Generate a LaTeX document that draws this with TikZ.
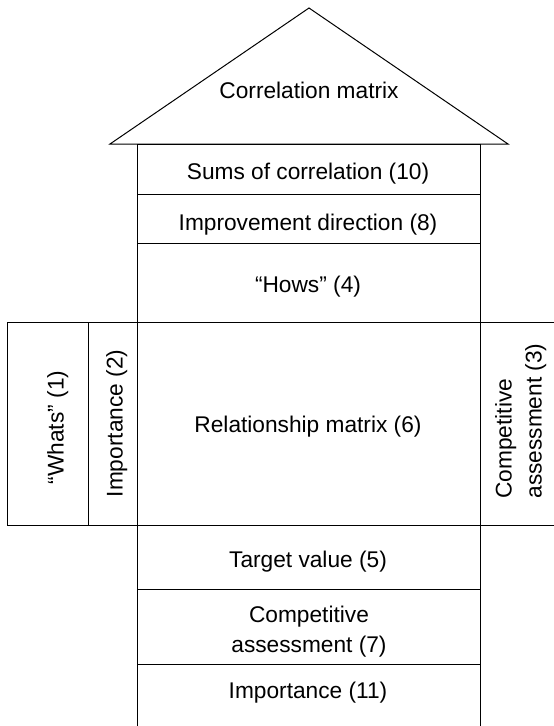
\documentclass[tikz,border=0pt]{standalone}
\usepackage{fontspec}
\setmainfont{Liberation Sans}
\begin{document}
\begin{tikzpicture}[x=1pt,y=1pt,line width=1pt,
  cell/.style={draw=black,rectangle,inner sep=0pt,outer sep=0pt},
  lbl/.style={inner sep=0pt,anchor=base,align=center,
    font=\fontsize{22.7}{29.5}\selectfont}]
\clip (0,0) rectangle (554,-726);
\useasboundingbox (0,0) rectangle (554,-726);
% roof
\coordinate (rl) at (110,-144);
\coordinate (ra) at (309,-8);
\coordinate (rr) at (508,-144);
\draw[line join=miter] (rl) -- (ra) -- (rr) -- cycle;
\node[lbl] (corr) at (309,-98) {Correlation matrix};
% central column cells
\node[cell,minimum width=343pt,minimum height=50pt] (sums) at (308.5,-169) {};
\node[cell,minimum width=343pt,minimum height=49pt] (impr) at (308.5,-218.5) {};
\node[cell,minimum width=343pt,minimum height=79pt] (hows) at (308.5,-282.5) {};
\node[cell,minimum width=343pt,minimum height=203pt] (rel) at (308.5,-423.5) {};
\node[cell,minimum width=343pt,minimum height=64pt] (target) at (308.5,-557) {};
\node[cell,minimum width=343pt,minimum height=75pt] (comp) at (308.5,-626.5) {};
\node[cell,minimum width=343pt,minimum height=72pt] (imp11) at (308.5,-700) {};
% central labels
\node[lbl] (sumst) at (308,-179) {Sums of correlation (10)};
\node[lbl] (imprt) at (308,-230) {Improvement direction (8)};
\node[lbl] (howst) at (308,-292) {“Hows” (4)};
\node[lbl] (relt) at (308,-432) {Relationship matrix (6)};
\node[lbl] (targett) at (308,-567) {Target value (5)};
\node[lbl] (compt) at (309,-652) {Competitive\\assessment (7)};
\node[lbl] (imp11t) at (308,-698) {Importance (11)};
% left side
\node[cell,minimum width=81pt,minimum height=203pt] (whats) at (47.5,-423.5) {};
\node[lbl,rotate=90] (whatst) at (63.5,-427.5) {“Whats” (1)};
\node[cell,minimum width=49pt,minimum height=203pt] (imp2) at (112.5,-423.5) {};
\node[lbl,rotate=90] (imp2t) at (122.5,-423.5) {Importance (2)};
% right side
\node[cell,minimum width=84pt,minimum height=203pt] (comp3) at (522,-423.5) {};
\node[lbl,rotate=90,align=left,font=\fontsize{22.7}{30}\selectfont] (comp3t) at (541.5,-421) {Competitive\\assessment (3)};
\end{tikzpicture}
\end{document}
